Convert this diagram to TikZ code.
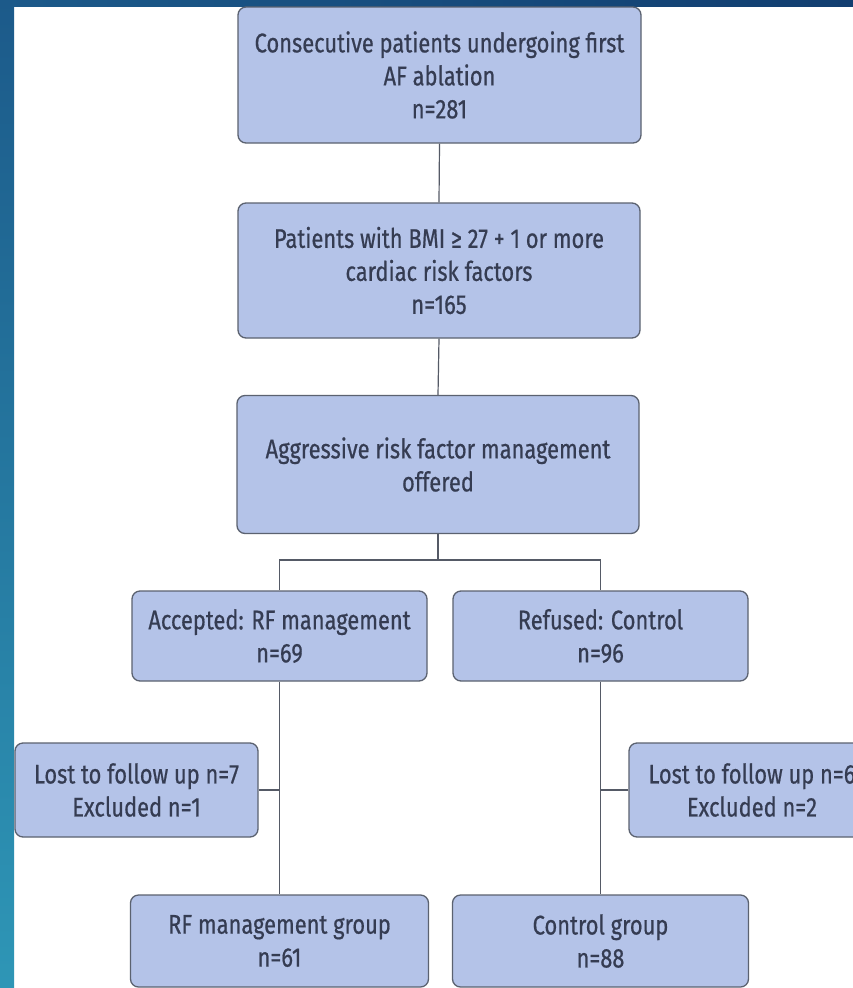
\documentclass[tikz,border=0pt]{standalone}
\usepackage{fontspec}
\setmainfont{Fira Sans}[FakeStretch=0.81,FakeBold=0.6]
\definecolor{boxfill}{HTML}{B4C3E8}
\definecolor{boxline}{HTML}{5B6270}
\definecolor{txt}{HTML}{353C52}
\definecolor{conn}{HTML}{555A66}
\definecolor{bgA}{HTML}{1C5A8A}
\definecolor{bgB}{HTML}{2E96B6}
\definecolor{bgC}{HTML}{123E70}
\tikzset{
  fbox/.style={draw=boxline, line width=1.3pt, fill=boxfill, rounded corners=8pt,
    text=txt, align=center, inner sep=0pt, font=\fontsize{27}{33}\selectfont},
  conline/.style={draw=conn, line width=1.2pt}
}
\begin{document}
\begin{tikzpicture}[x=1pt,y=-1pt]
\useasboundingbox (0,0) rectangle (853,988);
\clip (0,0) rectangle (853,988);
\fill[white] (0,0) rectangle (853,988);
\shade[top color=bgA, bottom color=bgB] (0,0) rectangle (14,988);
\shade[left color=bgA, right color=bgC] (0,0) rectangle (853,6);

\node[fbox, minimum width=403pt, minimum height=136pt] (b1) at (439.5,75) {Consecutive patients undergoing first\\AF ablation\\n=281};
\node[fbox, minimum width=402pt, minimum height=135pt] (b2) at (439,270.5) {Patients with BMI ≥ 27 + 1 or more\\cardiac risk factors\\n=165};
\node[fbox, minimum width=402pt, minimum height=138pt] (b3) at (438,464.5) {Aggressive risk factor management\\offered};
\node[fbox, minimum width=295pt, minimum height=90pt] (b4) at (279.5,636) {Accepted: RF management\\n=69};
\node[fbox, minimum width=295pt, minimum height=90pt] (b5) at (600.5,636) {Refused: Control\\n=96};
\node[fbox, minimum width=243pt, minimum height=94pt] (l1) at (136.5,790) {Lost to follow up n=7\\Excluded n=1};
\node[fbox, minimum width=246pt, minimum height=94pt] (l2) at (752,790) {Lost to follow up n=6\\Excluded n=2};
\node[fbox, minimum width=298pt, minimum height=92pt] (g1) at (279.5,941) {RF management group\\n=61};
\node[fbox, minimum width=296pt, minimum height=92pt] (g2) at (600.5,941) {Control group\\n=88};

\coordinate (sp) at (438,560);
\draw[conline] (b1.south) -- (b2.north);
\draw[conline] (b2.south) -- (b3.north);
\draw[conline] (b3.south) -- (sp);
\draw[conline] (b4.north) |- (sp) -| (b5.north);
\draw[conline] (b4.south) -- (g1.north);
\draw[conline] (b5.south) -- (g2.north);
\draw[conline] (l1.east) -- (l1.east -| b4.south);
\draw[conline] (l2.west) -- (l2.west -| b5.south);
\end{tikzpicture}
\end{document}
